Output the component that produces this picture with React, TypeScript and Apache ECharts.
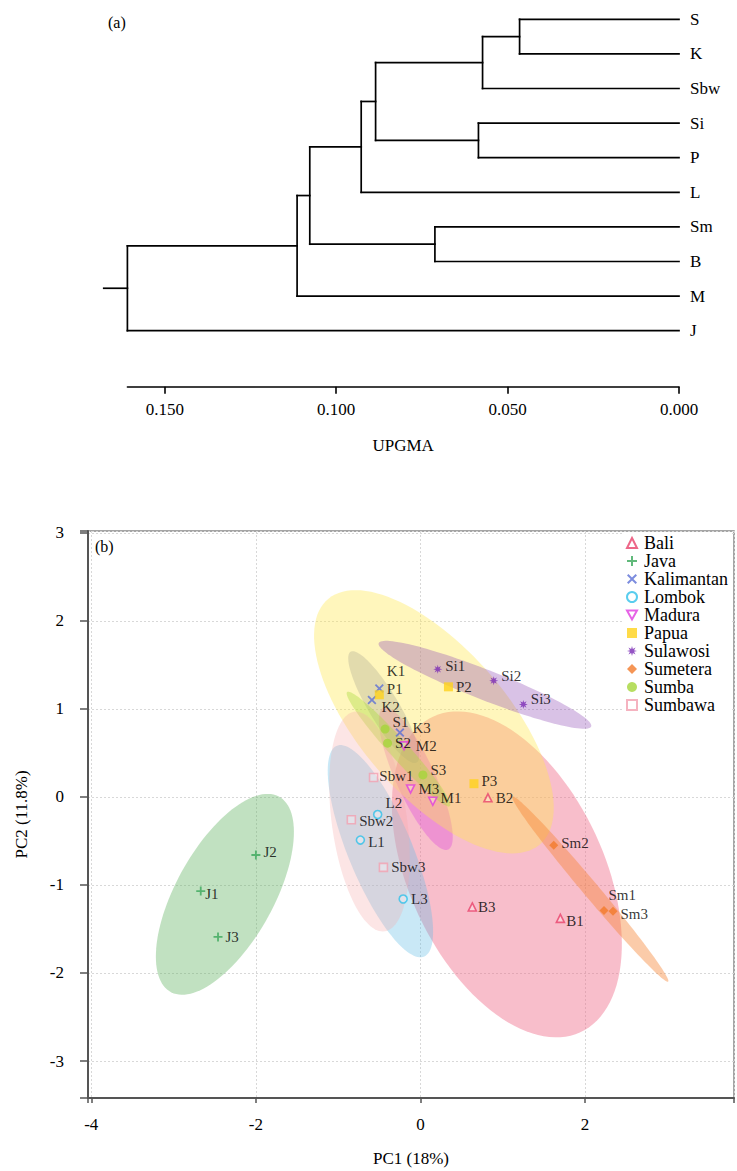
import React, { useEffect, useRef } from "react";
import * as echarts from "echarts";

// ---------- Panel (a): UPGMA dendrogram ----------
const leaves = ["S", "K", "Sbw", "Si", "P", "L", "Sm", "B", "M", "J"];
// merges: node indices (0-9 leaves, 10+ created clusters in order)
const mergeChildren = [
  [0, 1], [10, 2], [3, 4], [11, 12], [13, 5], [6, 7], [14, 15], [16, 8], [17, 9],
];
const mergeHeights = [0.0465, 0.0573, 0.0585, 0.0885, 0.0927, 0.0712, 0.1077, 0.1114, 0.1609];
const rootStubHeight = 0.1678;
const upgmaTicks = [0, 0.05, 0.1, 0.15];

// ---------- Panel (b): PCA ----------
const groupNames = ["Bali", "Java", "Kalimantan", "Lombok", "Madura", "Papua", "Sulawosi", "Sumetera", "Sumba", "Sumbawa"];
const sampleLabels = [
  "B1", "B2", "B3", "J1", "J2", "J3", "K1", "K2", "K3", "L1", "L2", "L3", "M1", "M2", "M3",
  "P1", "P2", "P3", "Si1", "Si2", "Si3", "Sm1", "Sm2", "Sm3", "S1", "S2", "S3", "Sbw1", "Sbw2", "Sbw3",
];
const sampleGroup = [0, 0, 0, 1, 1, 1, 2, 2, 2, 3, 3, 3, 4, 4, 4, 5, 5, 5, 6, 6, 6, 7, 7, 7, 8, 8, 8, 9, 9, 9];
const pc1 = [
  1.70, 0.82, 0.63, -2.67, -2.00, -2.46, -0.50, -0.59, -0.25, -0.73, -0.52, -0.21, 0.15, -0.20, -0.12,
  -0.50, 0.34, 0.65, 0.21, 0.89, 1.25, 2.23, 1.62, 2.34, -0.43, -0.40, 0.03, -0.57, -0.84, -0.45,
];
const pc2 = [
  -1.38, -0.01, -1.25, -1.07, -0.66, -1.59, 1.23, 1.10, 0.73, -0.49, -0.20, -1.16, -0.05, 0.58, 0.09,
  1.16, 1.25, 0.15, 1.45, 1.32, 1.05, -1.29, -0.55, -1.30, 0.77, 0.61, 0.25, 0.22, -0.26, -0.80,
];
const chi2_95 = 5.991; // 95% confidence ellipse

// ---------- styling ----------
const labelOffsets = [
  [-2, 3], [0, 0], [-2, 0], [-3, 3], [0, -3], [0, 0], [0, -18], [2, 7], [5, -5], [0, 2], [0, -12], [0, 0],
  [0, -3], [4, 0], [0, 0], [0, -6], [0, 0], [0, -3], [0, -3], [0, -5], [0, -5], [-3, -15], [0, -2], [0, 3],
  [0, -7], [0, 0], [0, -5], [-2, -2], [0, 1], [0, 0],
];
const markerColors = ["#e8416a", "#3aa85a", "#5b6fd6", "#2fc0ea", "#e03ce0", "#ffd21a", "#7b2bb5", "#f37a2a", "#a5d63a", "#f2a0b0"];
const ellipseFills = [
  "rgba(240,110,140,0.45)", "rgba(100,180,100,0.40)", "rgba(90,100,170,0.28)", "rgba(100,190,230,0.35)",
  "rgba(220,70,220,0.35)", "rgba(255,232,80,0.38)", "rgba(140,70,180,0.33)", "rgba(245,130,50,0.42)",
  "rgba(170,220,60,0.40)", "rgba(245,170,170,0.30)",
];

function starPath() {
  let d = "path://";
  const n = 8;
  for (let i = 0; i < n * 2; i++) {
    const r = i % 2 === 0 ? 5 : 2.2;
    const a = (Math.PI * i) / n - Math.PI / 2;
    d += (i === 0 ? "M" : "L") + (5 + r * Math.cos(a)).toFixed(2) + "," + (5 + r * Math.sin(a)).toFixed(2);
  }
  return d + "Z";
}
const plusPath = "path://M4,0H6V4H10V6H6V10H4V6H0V4H4Z";
const crossPath = "path://M1.4,0L5,3.6L8.6,0L10,1.4L6.4,5L10,8.6L8.6,10L5,6.4L1.4,10L0,8.6L3.6,5L0,1.4Z";
const downTriPath = "path://M0,0L10,0L5,9Z";

const markerSymbols = ["triangle", plusPath, crossPath, "circle", downTriPath, "rect", starPath(), "diamond", "circle", "rect"];
const markerOutline = [true, false, false, true, true, false, false, false, false, true];

const FONT = "'Liberation Serif', 'Times New Roman', serif";

export default function App() {
  const ref = useRef<HTMLDivElement>(null);
  useEffect(() => {
    if (!ref.current) return;
    const chart = echarts.init(ref.current, null, { renderer: "svg" });

    // dendrogram segments
    const nodeH: number[] = leaves.map(() => 0);
    const nodeY: number[] = leaves.map((_, i) => i);
    const segments: number[][] = [];
    mergeChildren.forEach(([a, b], k) => {
      const h = mergeHeights[k];
      segments.push([nodeH[a], nodeY[a], h, nodeY[a]]);
      segments.push([nodeH[b], nodeY[b], h, nodeY[b]]);
      segments.push([h, nodeY[a], h, nodeY[b]]);
      nodeH.push(h);
      nodeY.push((nodeY[a] + nodeY[b]) / 2);
    });
    const root = nodeH.length - 1;
    segments.push([nodeH[root], nodeY[root], rootStubHeight, nodeY[root]]);

    // ellipse stats
    const ellipseData = groupNames.map((_, g) => {
      const idx = sampleGroup.map((s, i) => (s === g ? i : -1)).filter((i) => i >= 0);
      const n = idx.length;
      const mx = idx.reduce((s, i) => s + pc1[i], 0) / n;
      const my = idx.reduce((s, i) => s + pc2[i], 0) / n;
      let sxx = 0, syy = 0, sxy = 0;
      idx.forEach((i) => {
        sxx += (pc1[i] - mx) ** 2;
        syy += (pc2[i] - my) ** 2;
        sxy += (pc1[i] - mx) * (pc2[i] - my);
      });
      sxx /= n - 1; syy /= n - 1; sxy /= n - 1;
      const T = sxx + syy, D = sxx * syy - sxy * sxy;
      const disc = Math.sqrt(Math.max(T * T / 4 - D, 0));
      const l1 = T / 2 + disc, l2 = Math.max(T / 2 - disc, 0);
      const theta = 0.5 * Math.atan2(2 * sxy, sxx - syy);
      return [mx, my, Math.sqrt(chi2_95 * l1), Math.sqrt(chi2_95 * l2), theta, g];
    });

    const scatterSeries = groupNames.map((name, g) => ({
      type: "scatter",
      name,
      xAxisIndex: 1,
      yAxisIndex: 1,
      z: 5,
      symbol: markerSymbols[g],
      symbolSize: markerOutline[g] ? 8 : 9,
      itemStyle: markerOutline[g]
        ? { color: "rgba(255,255,255,0.4)", borderColor: markerColors[g], borderWidth: 1.6 }
        : { color: markerColors[g] },
      label: {
        show: true,
        position: "right",
        distance: 3,
        formatter: "{b}",
        color: "#000",
        fontSize: 15,
        fontFamily: FONT,
      },
      data: sampleLabels
        .map((lab, i) => ({ i, lab }))
        .filter((o) => sampleGroup[o.i] === g)
        .map((o) => ({
          name: o.lab,
          value: [pc1[o.i], pc2[o.i]],
          label: { offset: labelOffsets[o.i] },
        })),
    }));

    const option: any = {
      animation: false,
      textStyle: { fontFamily: FONT },
      grid: [
        { left: 127.4, width: 551.6, top: 19.3, height: 311.4 },
        { left: 88, width: 648, top: 531, height: 567, show: true, borderColor: "#888", borderWidth: 1.5 },
      ],
      xAxis: [
        {
          gridIndex: 0,
          type: "value",
          inverse: true,
          min: 0,
          max: mergeHeights[mergeHeights.length - 1],
          position: "bottom",
          offset: 56,
          splitLine: { show: false },
          axisLine: { onZero: false, lineStyle: { color: "#000", width: 1.6 } },
          axisTick: { customValues: upgmaTicks, length: 7, lineStyle: { color: "#000", width: 1.6 } },
          axisLabel: {
            customValues: upgmaTicks,
            formatter: (v: number) => v.toFixed(3),
            margin: 14,
            fontSize: 17,
            color: "#000",
            fontFamily: FONT,
          },
          name: "UPGMA",
          nameLocation: "middle",
          nameGap: 50,
          nameTextStyle: { fontSize: 17, color: "#000", fontFamily: FONT },
        },
        {
          gridIndex: 1,
          type: "value",
          min: -4.04,
          max: 3.81,
          minInterval: 2,
          maxInterval: 2,
          axisLine: { onZero: false, lineStyle: { color: "#555", width: 2 } },
          axisTick: { length: 5, lineStyle: { color: "#555", width: 1.5 } },
          axisLabel: {
            formatter: (v: number) => (Math.abs(v / 2 - Math.round(v / 2)) < 1e-6 ? String(v) : ""),
            margin: 18,
            fontSize: 17,
            color: "#000",
            fontFamily: FONT,
          },
          splitLine: { show: true, lineStyle: { color: "#d8d8d8", type: [2, 2], width: 1 } },
          name: "PC1 (18%)",
          nameLocation: "middle",
          nameGap: 52,
          nameTextStyle: { fontSize: 17, color: "#000", fontFamily: FONT },
        },
      ],
      yAxis: [
        {
          gridIndex: 0,
          type: "value",
          inverse: true,
          min: 0,
          max: leaves.length - 1,
          interval: 1,
          position: "right",
          splitLine: { show: false },
          axisLine: { show: false },
          axisTick: { show: false },
          axisLabel: {
            formatter: (v: number) => leaves[v] ?? "",
            margin: 11,
            fontSize: 17,
            color: "#000",
            fontFamily: FONT,
          },
        },
        {
          gridIndex: 1,
          type: "value",
          min: -3.42,
          max: 3.02,
          minInterval: 1,
          maxInterval: 1,
          axisLine: { onZero: false, lineStyle: { color: "#555", width: 2 } },
          axisTick: { length: 8, lineStyle: { color: "#555", width: 1.5 } },
          axisLabel: {
            formatter: (v: number) => (Math.abs(v - Math.round(v)) < 1e-6 ? String(v) : ""),
            margin: 24,
            fontSize: 17,
            color: "#000",
            fontFamily: FONT,
          },
          splitLine: { show: true, lineStyle: { color: "#d8d8d8", type: [2, 2], width: 1 } },
          name: "PC2 (11.8%)",
          nameLocation: "middle",
          nameGap: 58,
          nameTextStyle: { fontSize: 17, color: "#000", fontFamily: FONT },
        },
      ],
      legend: {
        orient: "vertical",
        left: 622,
        top: 532,
        padding: [2, 4, 2, 4],
        backgroundColor: "#fff",
        itemWidth: 10,
        itemHeight: 10,
        itemGap: 0,
        data: groupNames,
        textStyle: { fontSize: 18, lineHeight: 15, color: "#000", fontFamily: FONT, padding: [0, 0, 0, 2] },
      },
      graphic: [
        { type: "text", left: 108, top: 14, style: { text: "(a)", font: "16px " + FONT, fill: "#000" } },
        { type: "text", left: 95, top: 538, style: { text: "(b)", font: "16px " + FONT, fill: "#000" } },
      ],
      series: [
        {
          type: "custom",
          name: "dendrogram",
          xAxisIndex: 0,
          yAxisIndex: 0,
          clip: false,
          silent: true,
          data: segments,
          renderItem: (_p: any, api: any) => {
            const a = api.coord([api.value(0), api.value(1)]);
            const b = api.coord([api.value(2), api.value(3)]);
            return {
              type: "line",
              shape: { x1: a[0], y1: a[1], x2: b[0], y2: b[1] },
              style: { stroke: "#000", lineWidth: 1.7, lineCap: "square" },
            };
          },
        },
        {
          type: "custom",
          name: "ellipses",
          xAxisIndex: 1,
          yAxisIndex: 1,
          z: 1,
          silent: true,
          data: ellipseData,
          renderItem: (_p: any, api: any) => {
            const mx = api.value(0), my = api.value(1), a = api.value(2), b = api.value(3), th = api.value(4);
            const g = api.value(5);
            const pts: number[][] = [];
            for (let k = 0; k < 120; k++) {
              const t = (2 * Math.PI * k) / 120;
              const x = mx + a * Math.cos(t) * Math.cos(th) - b * Math.sin(t) * Math.sin(th);
              const y = my + a * Math.cos(t) * Math.sin(th) + b * Math.sin(t) * Math.cos(th);
              pts.push(api.coord([x, y]));
            }
            return { type: "polygon", shape: { points: pts }, style: { fill: ellipseFills[g], stroke: "none" } };
          },
        },
        ...scatterSeries,
      ],
    };
    chart.setOption(option);
    return () => chart.dispose();
  }, []);
  return <div ref={ref} style={{ position: "fixed", left: 0, top: 0, width: 737, height: 1171, background: "#fff" }} />;
}
